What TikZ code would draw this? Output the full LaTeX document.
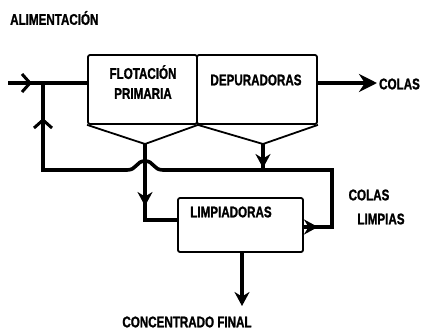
\documentclass[tikz,border=0pt]{standalone}
\usepackage{fontspec}
\newfontfamily\lblfont{Liberation Sans}[FakeStretch=0.75,BoldFeatures={FakeBold=1.2}]
\usetikzlibrary{arrows.meta}
\tikzset{
  flow/.style={line width=3.6pt},
  unit/.style={draw,line width=1.8pt,rounded corners=2pt,inner sep=0pt},
  lbl/.style={font=\lblfont\bfseries\fontsize{15.5}{20}\selectfont,inner sep=0pt,align=center},
  barb/.style={-{Straight Barb[length=8pt,width=18pt,line width=3pt]}},
  head/.style={-{Stealth[length=14pt,width=15pt]}},
}
\begin{document}
\begin{tikzpicture}[x=1pt,y=-1pt]
    \useasboundingbox (0,0) rectangle (421,333);
    %% Units
    \node[unit,minimum width=109pt,minimum height=69pt] (flot) at (142.5,89.5) {};
    \node[unit,minimum width=120pt,minimum height=69pt] (dep) at (257,89.5) {};
    \node[unit,minimum width=125pt,minimum height=54pt] (limp) at (240.5,225) {};
    %% Hoppers
    \coordinate (fa) at (145,144);
    \coordinate (da) at (263,144);
    \draw[line width=1.8pt] (flot.south west) -- (fa) -- (flot.south east) -- (da) -- (dep.south east);
    %% Labels
    \node[lbl] (tflot) at (143,82) {FLOTACIÓN\\PRIMARIA};
    \node[lbl] (tdep) at (256,80) {DEPURADORAS};
    \node[lbl] (tlimp) at (231,212) {LIMPIADORAS};
    \node[lbl,anchor=west] (tfeed) at (10,18) {ALIMENTACIÓN};
    \node[lbl,anchor=west] (tcolas) at (379,84) {COLAS};
    \node[lbl] (tcl1) at (369,195) {COLAS};
    \node[lbl] (tcl2) at (381,219) {LIMPIAS};
    \node[lbl] (tconc) at (187,322) {CONCENTRADO FINAL};
    %% Feed
    \coordinate (in) at (8,83);
    \draw[flow] (in) -- (in -| flot.west);
    \draw[flow,barb] (in) -- (32,83);
    %% Cleaner tails back to feed
    \coordinate (r1) at (332,227);
    \coordinate (r2) at (332,170);
    \coordinate (r3) at (43,170);
    \coordinate (r4) at (43,83);
    \draw[flow] (limp.east |- r1) -- (r1) -- (r2) -- (163,170)
        .. controls (153,170) and (154,161) .. (145,161)
        .. controls (136,161) and (137,170) .. (127,170) -- (r3) -- (r4);
    \draw[flow,barb] (r3) -- (43,118);
    \draw[flow,head] (limp.east |- r1) -- (318,227);
    %% Scavenger concentrate
    \draw[flow] (da) -- (da |- r2);
    \draw[flow,head] (da) -- (263,168);
    %% Rougher concentrate to cleaners
    \coordinate (f1) at (145,220);
    \draw[flow] (fa) -- (f1) -- (f1 -| limp.west);
    \draw[flow,head] (fa) -- (145,206);
    %% Final concentrate
    \coordinate (out) at (242,306);
    \draw[flow,head] (limp.south -| out) -- (out);
    %% Tails
    \draw[flow,-{Stealth[length=18pt,width=18pt]}] (dep.east |- in) -- (377,83);
\end{tikzpicture}
\end{document}
